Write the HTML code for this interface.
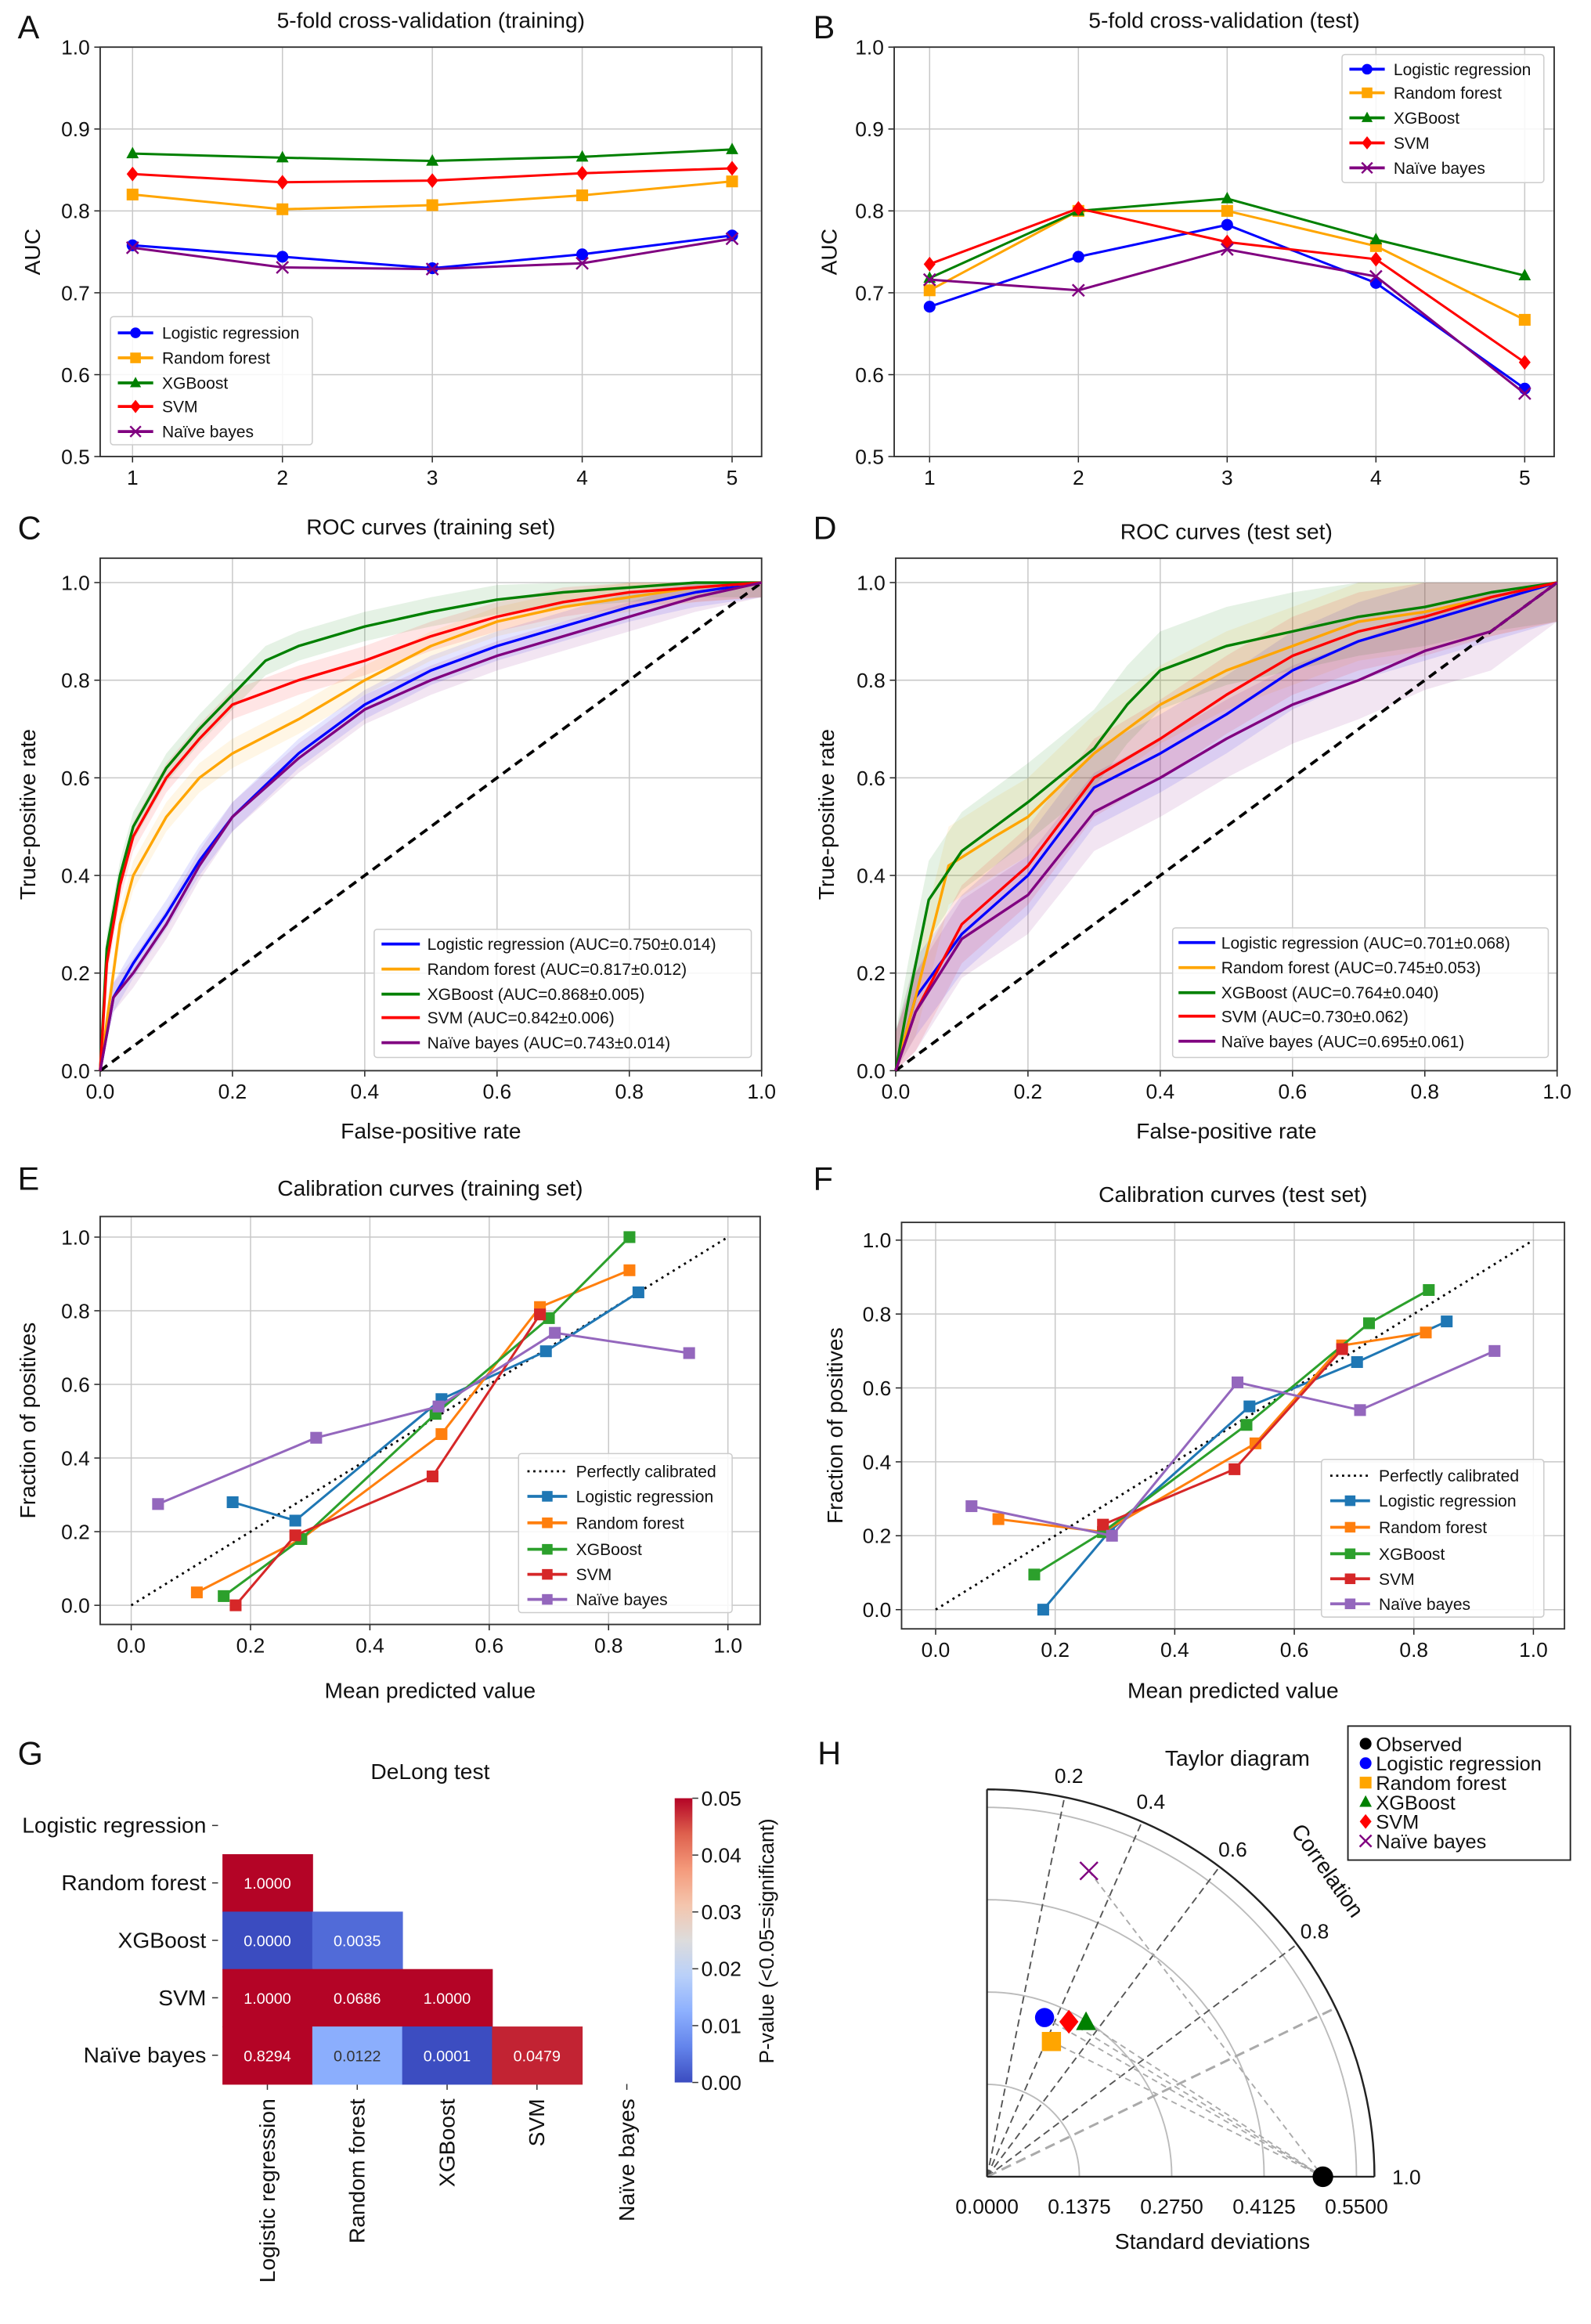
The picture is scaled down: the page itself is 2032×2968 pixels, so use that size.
<!DOCTYPE html>
<html><head><meta charset="utf-8"><style>
html,body{margin:0;padding:0;background:#fff}
svg{display:block}
text{font-family:"Liberation Sans",Arial,sans-serif;fill:#111}
</style></head><body>
<svg id="fig" xmlns="http://www.w3.org/2000/svg" width="2032" height="2968" viewBox="0 0 1080 1578" preserveAspectRatio="none"></svg>
<script>
// ---------- DATA ----------
const models = ["Logistic regression","Random forest","XGBoost","SVM","Naïve bayes"];
const folds = [1,2,3,4,5];
const cvTrainLR = [0.758,0.744,0.730,0.747,0.770];
const cvTrainRF = [0.820,0.802,0.807,0.819,0.836];
const cvTrainXGB = [0.870,0.865,0.861,0.866,0.875];
const cvTrainSVM = [0.845,0.835,0.837,0.846,0.852];
const cvTrainNB = [0.755,0.731,0.729,0.736,0.766];
const cvTestLR = [0.683,0.744,0.783,0.712,0.583];
const cvTestRF = [0.703,0.800,0.800,0.757,0.667];
const cvTestXGB = [0.718,0.800,0.815,0.765,0.721];
const cvTestSVM = [0.735,0.803,0.762,0.741,0.615];
const cvTestNB = [0.716,0.703,0.753,0.720,0.577];
const aucTicks = [0.5,0.6,0.7,0.8,0.9,1.0];

const rocTrainLR = [[0,0],[0.02,0.15],[0.05,0.22],[0.1,0.32],[0.15,0.43],[0.2,0.52],[0.3,0.65],[0.4,0.75],[0.5,0.82],[0.6,0.87],[0.7,0.91],[0.8,0.95],[0.9,0.98],[1,1]];
const rocTrainRF = [[0,0],[0.01,0.1],[0.03,0.3],[0.05,0.4],[0.1,0.52],[0.15,0.6],[0.2,0.65],[0.3,0.72],[0.4,0.8],[0.5,0.87],[0.6,0.92],[0.7,0.95],[0.8,0.97],[0.9,0.99],[1,1]];
const rocTrainXGB = [[0,0],[0.01,0.25],[0.03,0.4],[0.05,0.5],[0.1,0.62],[0.15,0.7],[0.2,0.77],[0.25,0.84],[0.3,0.87],[0.4,0.91],[0.5,0.94],[0.6,0.965],[0.7,0.98],[0.8,0.99],[0.9,1],[1,1]];
const rocTrainSVM = [[0,0],[0.01,0.22],[0.03,0.38],[0.05,0.48],[0.1,0.6],[0.15,0.68],[0.2,0.75],[0.3,0.8],[0.4,0.84],[0.5,0.89],[0.6,0.93],[0.7,0.96],[0.8,0.98],[0.9,0.99],[1,1]];
const rocTrainNB = [[0,0],[0.02,0.15],[0.05,0.2],[0.1,0.3],[0.15,0.42],[0.2,0.52],[0.3,0.64],[0.4,0.74],[0.5,0.8],[0.6,0.85],[0.7,0.89],[0.8,0.93],[0.9,0.97],[1,1]];
const rocTestLR = [[0,0],[0.03,0.15],[0.1,0.28],[0.2,0.4],[0.3,0.58],[0.4,0.65],[0.5,0.73],[0.6,0.82],[0.7,0.88],[0.8,0.92],[0.9,0.96],[1,1]];
const rocTestRF = [[0,0],[0.03,0.15],[0.08,0.42],[0.15,0.48],[0.2,0.52],[0.3,0.65],[0.4,0.75],[0.5,0.82],[0.6,0.87],[0.7,0.92],[0.8,0.94],[0.9,0.97],[1,1]];
const rocTestXGB = [[0,0],[0.02,0.15],[0.05,0.35],[0.1,0.45],[0.2,0.55],[0.3,0.66],[0.35,0.75],[0.4,0.82],[0.5,0.87],[0.6,0.9],[0.7,0.93],[0.8,0.95],[0.9,0.98],[1,1]];
const rocTestSVM = [[0,0],[0.03,0.12],[0.1,0.3],[0.2,0.42],[0.3,0.6],[0.4,0.68],[0.5,0.77],[0.6,0.85],[0.7,0.9],[0.8,0.93],[0.9,0.97],[1,1]];
const rocTestNB = [[0,0],[0.03,0.12],[0.1,0.27],[0.2,0.36],[0.3,0.53],[0.4,0.6],[0.5,0.68],[0.6,0.75],[0.7,0.8],[0.8,0.86],[0.9,0.9],[1,1]];
const rocTrainLabels = ["Logistic regression (AUC=0.750±0.014)","Random forest (AUC=0.817±0.012)","XGBoost (AUC=0.868±0.005)","SVM (AUC=0.842±0.006)","Naïve bayes (AUC=0.743±0.014)"];
const rocTestLabels = ["Logistic regression (AUC=0.701±0.068)","Random forest (AUC=0.745±0.053)","XGBoost (AUC=0.764±0.040)","SVM (AUC=0.730±0.062)","Naïve bayes (AUC=0.695±0.061)"];
const unitTicks = [0,0.2,0.4,0.6,0.8,1.0];

const calTrainLR = [[0.17,0.28],[0.275,0.23],[0.52,0.56],[0.695,0.69],[0.85,0.85]];
const calTrainRF = [[0.11,0.035],[0.285,0.18],[0.52,0.465],[0.685,0.81],[0.835,0.91]];
const calTrainXGB = [[0.155,0.025],[0.285,0.18],[0.51,0.52],[0.7,0.78],[0.835,1.0]];
const calTrainSVM = [[0.175,0],[0.275,0.19],[0.505,0.35],[0.685,0.79]];
const calTrainNB = [[0.045,0.275],[0.31,0.455],[0.515,0.54],[0.71,0.74],[0.935,0.685]];
const calTestLR = [[0.18,0],[0.29,0.21],[0.525,0.55],[0.705,0.67],[0.855,0.78]];
const calTestRF = [[0.105,0.245],[0.28,0.21],[0.535,0.45],[0.68,0.715],[0.82,0.75]];
const calTestXGB = [[0.165,0.095],[0.28,0.21],[0.52,0.5],[0.725,0.775],[0.825,0.865]];
const calTestSVM = [[0.28,0.23],[0.5,0.38],[0.68,0.705]];
const calTestNB = [[0.06,0.28],[0.295,0.2],[0.505,0.615],[0.71,0.54],[0.935,0.7]];

const delongRows = ["Random forest","XGBoost","SVM","Naïve bayes"];
const delongP = [[1.0],[0.0,0.0035],[1.0,0.0686,1.0],[0.8294,0.0122,0.0001,0.0479]];
const cbTicks = [0,0.01,0.02,0.03,0.04,0.05];

const taylorSD = [0.252,0.223,0.273,0.261,0.48];
const taylorCorr = [0.34,0.43,0.54,0.467,0.316];
const observedSD = 0.5;
const sdTicks = [0,0.1375,0.275,0.4125,0.55];
const corrLabels = [0.2,0.4,0.6,0.8];
const corrLines = [0.2,0.4,0.6,0.8];

// ---------- HELPERS ----------
const NS="http://www.w3.org/2000/svg";
const svg=document.getElementById('fig');
function el(tag,attrs,parent){const e=document.createElementNS(NS,tag);for(const k in attrs)e.setAttribute(k,attrs[k]);(parent||svg).appendChild(e);return e;}
function txt(x,y,s,attrs,parent){const t=el('text',Object.assign({x:x,y:y},attrs||{}),parent);t.textContent=s;return t;}
const C1=["#0000ff","#ffa500","#008000","#ff0000","#800080"];
const C2=["#1f77b4","#ff7f0e","#2ca02c","#d62728","#9467bd"];
const MK=["o","s","^","D","x"];

function marker(g,type,x,y,r,color){
  let m;
  if(type==="o") m=el('circle',{cx:x,cy:y,r:r,fill:color},g);
  else if(type==="s") m=el('rect',{x:x-r,y:y-r,width:2*r,height:2*r,fill:color},g);
  else if(type==="^") m=el('polygon',{points:`${x},${y-r*1.15} ${x-r*1.05},${y+r*0.8} ${x+r*1.05},${y+r*0.8}`,fill:color},g);
  else if(type==="D") m=el('polygon',{points:`${x},${y-r*1.25} ${x+r},${y} ${x},${y+r*1.25} ${x-r},${y}`,fill:color},g);
  else m=el('path',{d:`M${x-r},${y-r}L${x+r},${y+r}M${x-r},${y+r}L${x+r},${y-r}`,stroke:color,'stroke-width':1.3,fill:'none'},g);
  
  
  return m;
}

function axes(c){
  const g=el('g',{});
  
  
  const X=v=>c.x0+(v-c.xl[0])/(c.xl[1]-c.xl[0])*(c.x1-c.x0);
  const Y=v=>c.y1-(v-c.yl[0])/(c.yl[1]-c.yl[0])*(c.y1-c.y0);
  c.xticks.forEach(t=>{
    const gl=el('line',{x1:X(t),x2:X(t),y1:c.y0,y2:c.y1,stroke:'#c8c8c8','stroke-width':0.8},g);
    
    
    el('line',{x1:X(t),x2:X(t),y1:c.y1,y2:c.y1+4,stroke:'#222','stroke-width':0.8},g);
    const tl=txt(X(t),c.y1+19,c.xfmt(t),{'text-anchor':'middle','font-size':14},g);
    
    
  });
  c.yticks.forEach(t=>{
    const gl=el('line',{x1:c.x0,x2:c.x1,y1:Y(t),y2:Y(t),stroke:'#c8c8c8','stroke-width':0.8},g);
    
    
    el('line',{x1:c.x0-4,x2:c.x0,y1:Y(t),y2:Y(t),stroke:'#222','stroke-width':0.8},g);
    const tl=txt(c.x0-7,Y(t)+5,c.yfmt(t),{'text-anchor':'end','font-size':14},g);
    
    
  });
  const fr=el('rect',{x:c.x0,y:c.y0,width:c.x1-c.x0,height:c.y1-c.y0,fill:'none',stroke:'#333','stroke-width':1},g);
  
  
  const ti=txt((c.x0+c.x1)/2,c.ty,c.title,{'text-anchor':'middle','font-size':15},g);
  
  
  if(c.xlabel){const xl=txt((c.x0+c.x1)/2,c.xly,c.xlabel,{'text-anchor':'middle','font-size':15},g);
    
    }
  const yl=txt(0,0,c.ylabel,{'text-anchor':'middle','font-size':15,transform:`translate(${c.ylx},${(c.y0+c.y1)/2}) rotate(-90)`},g);
  
  
  const lt=txt(c.lx,c.ly,c.letter,{'font-size':22},g);
  
  
  return {g,X,Y};
}

function legend(g,box,rows,labels,colors,markers,lx0,lx1,tx,extra,ms){
  const b=el('rect',{x:box[0],y:box[1],width:box[2],height:box[3],fill:'#fff','fill-opacity':0.85,stroke:'#ccc','stroke-width':0.8,rx:2},g);
  
  
  labels.forEach((lab,i)=>{
    const y=rows[i];
    const ln=el('line',{x1:lx0,x2:lx1,y1:y,y2:y,stroke:colors[i],'stroke-width':extra&&extra[i]==='dot'?1.5:2,'stroke-dasharray':extra&&extra[i]==='dot'?'1.5,2.5':'none'},g);
    
    
    if(markers&&markers[i]) marker(g,markers[i],(lx0+lx1)/2,y,ms||3.6,colors[i]);
    const t=txt(tx,y+4,lab,{'font-size':11.2},g);
    
    
  });
}

function pathOf(pts,A){return pts.map((p,i)=>(i?'L':'M')+A.X(p[0]).toFixed(2)+','+A.Y(p[1]).toFixed(2)).join('');}

// ---------- A & B ----------
function cvPanel(cfg,series){
  const A=axes(cfg);
  series.forEach((s,i)=>{
    const pts=folds.map((f,j)=>[f,s[j]]);
    const p=el('path',{d:pathOf(pts,A),stroke:C1[i],'stroke-width':1.6,fill:'none'},A.g);
    
    
    pts.forEach(q=>marker(A.g,MK[i],A.X(q[0]),A.Y(q[1]),4,C1[i]));
  });
  return A;
}
const fmt1=v=>v.toFixed(1);
const Aa=cvPanel({name:'panel-a-cv-training',x0:68,x1:517,y0:32,y1:310,xl:[0.784,5.197],yl:[0.5,1.0],xticks:folds,yticks:aucTicks,xfmt:v=>String(v),yfmt:fmt1,title:'5-fold cross-validation (training)',ty:19,ylabel:'AUC',ylx:27,letter:'A',lx:12,ly:26},[cvTrainLR,cvTrainRF,cvTrainXGB,cvTrainSVM,cvTrainNB]);
legend(Aa.g,[75,215,137,87],[226,243,260,276,293],models,C1,MK,80,104,110);
const Ab=cvPanel({name:'panel-b-cv-test',x0:607,x1:1055,y0:32,y1:310,xl:[0.762,5.198],yl:[0.5,1.0],xticks:folds,yticks:aucTicks,xfmt:v=>String(v),yfmt:fmt1,title:'5-fold cross-validation (test)',ty:19,ylabel:'AUC',ylx:568,letter:'B',lx:552,ly:26},[cvTestLR,cvTestRF,cvTestXGB,cvTestSVM,cvTestNB]);
legend(Ab.g,[911,37,137,87],[47,63,80,97,114],models,C1,MK,916,940,946);

// ---------- C & D ----------
function rocPanel(cfg,series,w,labels,lg){
  const A=axes(cfg);
  series.forEach((s,i)=>{
    const up=s.map(p=>[p[0],Math.min(1,p[1]+w)]);
    const lo=s.map(p=>[p[0],Math.max(0,p[1]-w)]).reverse();
    const band=el('path',{d:pathOf(up.concat(lo),A)+'Z',fill:C1[i],'fill-opacity':0.1,stroke:'none'},A.g);
    
    
  });
  const diag=el('line',{x1:A.X(0),y1:A.Y(0),x2:A.X(1),y2:A.Y(1),stroke:'#000','stroke-width':2,'stroke-dasharray':'6,4'},A.g);
  
  
  series.forEach((s,i)=>{
    const p=el('path',{d:pathOf(s,A),stroke:C1[i],'stroke-width':1.8,fill:'none','stroke-linejoin':'round'},A.g);
    
    
  });
  legend(A.g,lg.box,lg.rows,labels,C1,null,lg.l0,lg.l1,lg.t);
}
rocPanel({name:'panel-c-roc-training',x0:68,x1:517,y0:379,y1:727,xl:[0,1],yl:[0,1.05],xticks:unitTicks,yticks:unitTicks,xfmt:fmt1,yfmt:fmt1,title:'ROC curves (training set)',ty:363,xlabel:'False-positive rate',xly:773,ylabel:'True-positive rate',ylx:24,letter:'C',lx:12,ly:366},
  [rocTrainLR,rocTrainRF,rocTrainXGB,rocTrainSVM,rocTrainNB],0.03,rocTrainLabels,{box:[254,631,256,87],rows:[641,658,675,691,708],l0:259,l1:285,t:290});
rocPanel({name:'panel-d-roc-test',x0:608,x1:1057,y0:379,y1:727,xl:[0,1],yl:[0,1.05],xticks:unitTicks,yticks:unitTicks,xfmt:fmt1,yfmt:fmt1,title:'ROC curves (test set)',ty:366,xlabel:'False-positive rate',xly:773,ylabel:'True-positive rate',ylx:566,letter:'D',lx:552,ly:366},
  [rocTestLR,rocTestRF,rocTestXGB,rocTestSVM,rocTestNB],0.08,rocTestLabels,{box:[796,630,255,88],rows:[640,657,674,690,707],l0:800,l1:825,t:829});

// ---------- E & F ----------
function calPanel(cfg,series,lg){
  const A=axes(cfg);
  const d=el('line',{x1:A.X(0),y1:A.Y(0),x2:A.X(1),y2:A.Y(1),stroke:'#000','stroke-width':1.5,'stroke-dasharray':'1.5,3'},A.g);
  
  
  series.forEach((s,i)=>{
    const p=el('path',{d:pathOf(s,A),stroke:C2[i],'stroke-width':1.6,fill:'none'},A.g);
    
    
    s.forEach(q=>marker(A.g,'s',A.X(q[0]),A.Y(q[1]),4,C2[i]));
  });
  legend(A.g,lg.box,lg.rows,['Perfectly calibrated'].concat(models),['#000'].concat(C2),[null,'s','s','s','s','s'],lg.l0,lg.l1,lg.t,['dot']);
}
calPanel({name:'panel-e-calibration-training',x0:68,x1:516,y0:826,y1:1103,xl:[-0.052,1.054],yl:[-0.052,1.056],xticks:unitTicks,yticks:unitTicks,xfmt:fmt1,yfmt:fmt1,title:'Calibration curves (training set)',ty:812,xlabel:'Mean predicted value',xly:1153,ylabel:'Fraction of positives',ylx:24,letter:'E',lx:12,ly:808},
  [calTrainLR,calTrainRF,calTrainXGB,calTrainSVM,calTrainNB],{box:[352,987,145,108],rows:[999,1016,1034,1052,1069,1086],l0:358,l1:385,t:391});
calPanel({name:'panel-f-calibration-test',x0:612,x1:1062,y0:830,y1:1106,xl:[-0.057,1.052],yl:[-0.052,1.048],xticks:unitTicks,yticks:unitTicks,xfmt:fmt1,yfmt:fmt1,title:'Calibration curves (test set)',ty:816,xlabel:'Mean predicted value',xly:1153,ylabel:'Fraction of positives',ylx:572,letter:'F',lx:552,ly:808},
  [calTestLR,calTestRF,calTestXGB,calTestSVM,calTestNB],{box:[897,991,151,107],rows:[1002,1019,1037,1055,1072,1089],l0:903,l1:930,t:936});

// ---------- G heatmap ----------
const cwStops=[[0,[59,76,192]],[0.125,[99,132,235]],[0.25,[141,176,254]],[0.375,[185,208,249]],[0.5,[221,220,220]],[0.625,[244,197,173]],[0.75,[244,154,123]],[0.875,[222,96,77]],[1,[180,4,38]]];
function coolwarm(t){t=Math.max(0,Math.min(1,t));for(let i=1;i<cwStops.length;i++){if(t<=cwStops[i][0]){const a=cwStops[i-1],b=cwStops[i],f=(t-a[0])/(b[0]-a[0]);return 'rgb('+a[1].map((v,k)=>Math.round(v+(b[1][k]-v)*f)).join(',')+')';}}return 'rgb(180,4,38)';}
const G=el('g',{});


const hx0=151,cw=61,hy0=1220,ch=39;
const gl=txt(12,1198,'G',{'font-size':22},G);


const gt=txt(292,1208,'DeLong test',{'text-anchor':'middle','font-size':15},G);


models.forEach((m,i)=>{
  const y=hy0+ch*i+ch/2;
  const rl=txt(140,y+5,m,{'text-anchor':'end','font-size':15},G);
  
  
  el('line',{x1:144,x2:148,y1:y,y2:y,stroke:'#333','stroke-width':0.8},G);
  const x=hx0+cw*i+cw/2;
  el('line',{x1:x,x2:x,y1:1415,y2:1419,stroke:'#333','stroke-width':0.8},G);
  const cl=txt(0,0,m,{'text-anchor':'end','font-size':15,transform:`translate(${x+5},1425) rotate(-90)`},G);
  
  
});
delongP.forEach((row,r)=>{
  row.forEach((v,c)=>{
    const x=hx0+cw*c,y=hy0+ch*(r+1);
    const cell=el('rect',{x:x,y:y,width:cw+0.5,height:ch+0.5,fill:coolwarm(v/0.05)},G);
    
    
    const t=txt(x+cw/2,y+ch/2+4,v.toFixed(4),{'text-anchor':'middle','font-size':10.5,'font-family':'Liberation Serif, serif'},G);
    t.style.fill=(v/0.05>0.18&&v/0.05<0.8)?'#333':'#fff';
    
    
  });
});
const defs=el('defs',{});
const lg=el('linearGradient',{id:'cb',x1:0,y1:1,x2:0,y2:0},defs);
cwStops.forEach(s=>el('stop',{offset:s[0],'stop-color':'rgb('+s[1].join(',')+')'},lg));
const cbTop=1221,cbBot=1414;
const cb=el('rect',{x:458,y:cbTop,width:12,height:cbBot-cbTop,fill:'url(#cb)'},G);


cbTicks.forEach(t=>{
  const y=cbBot-(t/0.05)*(cbBot-cbTop);
  el('line',{x1:470,x2:474,y1:y,y2:y,stroke:'#333','stroke-width':0.8},G);
  const l=txt(476,y+5,t.toFixed(2),{'font-size':14},G);
  
  
});
const cbl=txt(0,0,'P-value (<0.05=significant)',{'text-anchor':'middle','font-size':14,transform:'translate(525,1318) rotate(-90)'},G);



// ---------- H Taylor ----------
const H=el('g',{});


const Ox=670,Oy=1478,K=456,Rmax=263;
const TX=(sd,c)=>Ox+sd*K*c, TY=(sd,c)=>Oy-sd*K*Math.sqrt(1-c*c);
const hl=txt(555,1198,'H',{'font-size':22},H);


sdTicks.slice(1).forEach(s=>{
  const r=s*K;
  const a=el('path',{d:`M${Ox+r},${Oy}A${r},${r} 0 0 0 ${Ox},${Oy-r}`,fill:'none',stroke:'#bbb','stroke-width':1},H);
  
  
});
corrLines.forEach(c=>{
  const l=el('line',{x1:Ox,y1:Oy,x2:Ox+Rmax*c,y2:Oy-Rmax*Math.sqrt(1-c*c),stroke:'#555','stroke-width':1,'stroke-dasharray':'5,3'},H);
  
  
});
[0.9].forEach(c=>{
  const l=el('line',{x1:Ox,y1:Oy,x2:Ox+Rmax*c,y2:Oy-Rmax*Math.sqrt(1-c*c),stroke:'#aaa','stroke-width':1.6,'stroke-dasharray':'7,4'},H);
  
  
});
const outer=el('path',{d:`M${Ox+Rmax},${Oy}A${Rmax},${Rmax} 0 0 0 ${Ox},${Oy-Rmax}`,fill:'none',stroke:'#222','stroke-width':1.3},H);


el('line',{x1:Ox,y1:Oy,x2:Ox+Rmax,y2:Oy,stroke:'#222','stroke-width':1.2},H);
el('line',{x1:Ox,y1:Oy,x2:Ox,y2:Oy-Rmax,stroke:'#222','stroke-width':1.2},H);
corrLabels.forEach(c=>{
  const r=Rmax+15;
  const l=txt(Ox+r*c,Oy-r*Math.sqrt(1-c*c)+5,String(c),{'text-anchor':'middle','font-size':14},H);
  
  
});
const one=txt(945,1483,'1.0',{'font-size':14},H);


sdTicks.forEach(s=>{
  const l=txt(Ox+s*K,1503,s.toFixed(4),{'text-anchor':'middle','font-size':14},H);
  
  
});
const sdt=txt(823,1527,'Standard deviations',{'text-anchor':'middle','font-size':15},H);


const ttl=txt(840,1199,'Taylor diagram',{'text-anchor':'middle','font-size':15},H);


const corrT=txt(0,0,'Correlation',{'text-anchor':'middle','font-size':15,transform:'translate(897,1273) rotate(55)'},H);


taylorSD.forEach((s,i)=>{
  const l=el('line',{x1:TX(s,taylorCorr[i]),y1:TY(s,taylorCorr[i]),x2:TX(observedSD,1),y2:TY(observedSD,1),stroke:'#aaa','stroke-width':1,'stroke-dasharray':'4,3'},H);
  
  
});
marker(H,'o',TX(observedSD,1),TY(observedSD,1),7,'#000');
taylorSD.forEach((s,i)=>marker(H,MK[i],TX(s,taylorCorr[i]),TY(s,taylorCorr[i]),MK[i]==='x'?6:6.5,C1[i]));
const hb=el('rect',{x:915,y:1172,width:151,height:91,fill:'#fff',stroke:'#222','stroke-width':1},H);


['Observed'].concat(models).forEach((m,i)=>{
  const y=1184+i*13.2;
  marker(H,['o'].concat(MK)[i],927,y,4,['#000'].concat(C1)[i]);
  const t=txt(934,y+5,m,{'font-size':13.5},H);
  
  
});
</script>
</body></html>
